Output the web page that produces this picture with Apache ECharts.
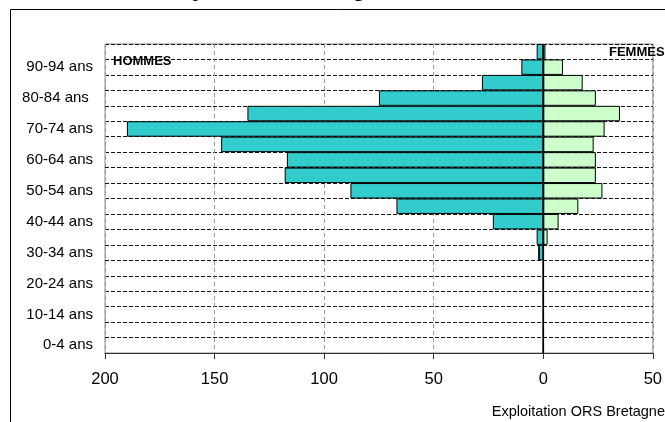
<!DOCTYPE html>
<html>
<head>
<meta charset="utf-8">
<script src="https://cdn.jsdelivr.net/npm/echarts@6/dist/echarts.min.js"></script>
<style>
  html, body { margin: 0; padding: 0; background: #fff; }
  #chart { width: 665px; height: 422px; }
</style>
</head>
<body>
<div id="chart"></div>
<script>
// Age groups, youngest first (bottom of the pyramid)
const ageGroups = [
  '0-4 ans', '5-9 ans', '10-14 ans', '15-19 ans', '20-24 ans', '25-29 ans',
  '30-34 ans', '35-39 ans', '40-44 ans', '45-49 ans', '50-54 ans', '55-59 ans',
  '60-64 ans', '65-69 ans', '70-74 ans', '75-79 ans', '80-84 ans ', '85-89 ans',
  '90-94 ans', '95 ans et plus'
];
// Headcounts per age group
const hommes = [0, 0, 0, 0, 0, 0, 2, 3, 23, 67, 88, 118, 117, 147, 190, 135, 75, 28, 10, 3];
const femmes = [0, 0, 0, 0, 0, 0, 0, 2, 7, 16, 27, 24, 24, 23, 28, 35, 24, 18, 9, 1];
// Horizontal axis ticks
const xTicks = { min: -200, max: 50, step: 50 };

const font = 'Arial, "Liberation Sans", sans-serif';
const chart = echarts.init(document.getElementById('chart'), null, { renderer: 'canvas' });

chart.setOption({
  animation: false,
  backgroundColor: '#ffffff',
  grid: {
    left: 105, top: 44, width: 548, height: 309,
    show: true, borderColor: '#8c8c8c', borderWidth: 1, backgroundColor: 'transparent'
  },
  xAxis: {
    type: 'value',
    min: xTicks.min, max: xTicks.max, interval: xTicks.step,
    axisLine: { show: true, onZero: false, lineStyle: { color: '#333', width: 1 } },
    axisTick: { show: true, length: 6, lineStyle: { color: '#333' } },
    axisLabel: {
      margin: 18, color: '#000', fontSize: 16.5, fontFamily: font,
      formatter: v => String(Math.abs(v))
    },
    splitLine: { show: true, lineStyle: { color: '#999', type: [4, 3], width: 1 } }
  },
  yAxis: {
    type: 'category',
    data: ageGroups,
    position: 'left',
    boundaryGap: true,
    axisLine: { show: false },
    axisTick: { show: false },
    axisLabel: {
      interval: 1, margin: 12, color: '#000', fontSize: 15, fontFamily: font
    },
    splitLine: { show: true, interval: 0, lineStyle: { color: '#111', type: [4, 2], width: 1 } }
  },
  series: [
    {
      name: 'HOMMES',
      type: 'bar',
      stack: 'pyr',
      data: hommes.map(v => -v),
      barCategoryGap: '0%',
      itemStyle: { color: '#33CCCC', borderColor: '#000', borderWidth: 1 },
      z: 3,
      // zero line between the two halves
      markLine: {
        silent: true, symbol: 'none', label: { show: false },
        lineStyle: { color: '#000', type: 'solid', width: 1.2 },
        data: [{ xAxis: 0 }],
        z: 5
      }
    },
    {
      name: 'FEMMES',
      type: 'bar',
      stack: 'pyr',
      data: femmes,
      barCategoryGap: '0%',
      itemStyle: { color: '#CCFFCC', borderColor: '#000', borderWidth: 1 },
      z: 3
    }
  ],
  graphic: [
    {
      type: 'rect', silent: true, z: 0,
      shape: { x: 10.5, y: 9.5, width: 720, height: 480 },
      style: { fill: 'none', stroke: '#000', lineWidth: 1 }
    },
    {
      type: 'text', left: 176, top: -23, z: 10,
      style: { text: 'Pyramide des âges', font: 'bold 24px ' + font, fill: '#000' }
    },
    {
      type: 'text', left: 113, top: 55, z: 10,
      style: { text: 'HOMMES', font: 'bold 13px ' + font, fill: '#000' }
    },
    {
      type: 'text', left: 609, top: 46, z: 10,
      style: { text: 'FEMMES', font: 'bold 13px ' + font, fill: '#000' }
    },
    {
      type: 'text', right: 0, top: 404, z: 10,
      style: { text: 'Exploitation ORS Bretagne', font: '14.5px ' + font, fill: '#000' }
    }
  ]
});
</script>
</body>
</html>
